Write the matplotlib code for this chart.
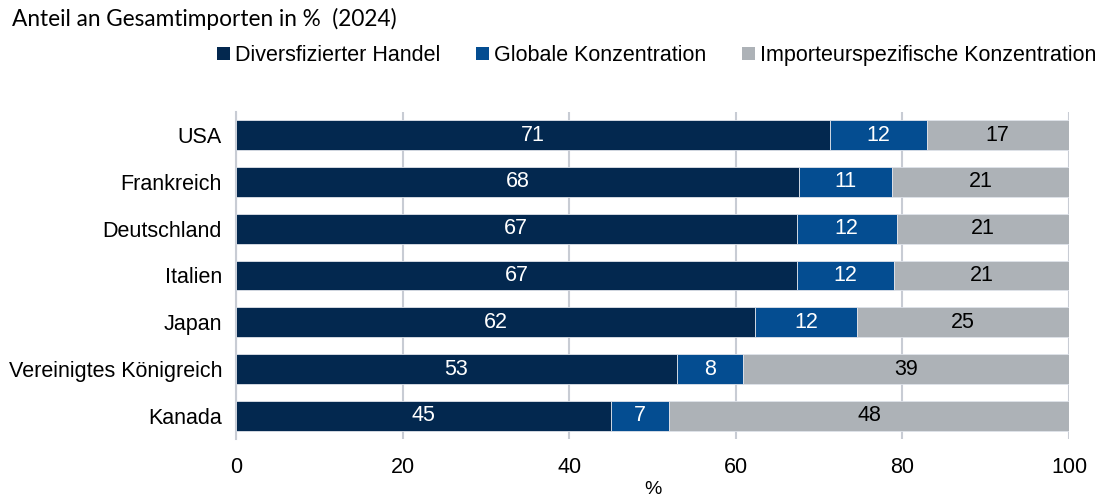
import matplotlib
matplotlib.use("Agg")
import matplotlib.pyplot as plt
from matplotlib.patches import Patch
import numpy as np

countries = ["USA", "Frankreich", "Deutschland", "Italien", "Japan",
             "Vereinigtes Königreich", "Kanada"]
diversified = [71.3, 67.6, 67.3, 67.4, 62.3, 52.9, 45.0]
global_conc = [11.6, 11.15, 12.0, 11.6, 12.3, 8.0, 7.0]
importer_conc = [17.1, 21.25, 20.7, 21.0, 25.4, 39.1, 48.0]
series_names = ["Diversfizierter Handel", "Globale Konzentration",
                "Importeurspezifische Konzentration"]
colors = ["#03284f", "#044d91", "#adb2b7"]
label_colors = ["white", "white", "black"]
xticks = [0, 20, 40, 60, 80, 100]

plt.rcParams['font.family'] = ['Liberation Sans', 'DejaVu Sans']

fig = plt.figure(figsize=(11.12, 5.01), dpi=100)
ax = fig.add_axes([0.2122, 0.1230, 0.9613 - 0.2122, 0.7772 - 0.1230])

y = np.arange(len(countries))
left = np.zeros(len(countries))
for vals, c, lc, name in zip([diversified, global_conc, importer_conc],
                             colors, label_colors, series_names):
    vals = np.array(vals)
    ax.barh(y, vals, left=left, height=0.64, color=c,
            edgecolor="#dfe3ea", linewidth=0.6, label=name, zorder=3)
    for yi, l, v in zip(y, left, vals):
        ax.text(l + v / 2, yi, f"{round(v):d}", ha="center", va="center",
                color=lc, fontsize=15.5, zorder=4)
    left = left + vals

ax.set_ylim(len(countries) - 0.5, -0.5)
ax.set_xlim(0, 100)
ax.set_yticks(y)
ax.set_yticklabels(countries, fontsize=15.5)
ax.set_xticks(xticks)
ax.set_xticklabels([str(t) for t in xticks], fontsize=15.5)
ax.tick_params(axis="y", length=0, pad=10)
ax.tick_params(axis="x", length=0, pad=13)
ax.xaxis.grid(True, color="#c8ccd4", linewidth=1.5, zorder=0)
ax.set_axisbelow(True)
for s in ["top", "right", "bottom"]:
    ax.spines[s].set_visible(False)
ax.spines["left"].set_color("#c8ccd4")
ax.spines["left"].set_linewidth(1.5)
ax.set_xlabel("%", fontsize=14, labelpad=2)

fig.text(0.011, 0.962, "Anteil an Gesamtimporten in %  (2024)",
         family=["Lato", "DejaVu Sans"], fontsize=16.3, va="center", ha="left")

handles = [Patch(facecolor=c, edgecolor="none") for c in colors]
fig.legend(handles, series_names, loc="center right", ncol=3,
           bbox_to_anchor=(0.994, 0.889), frameon=False, fontsize=15.5,
           handlelength=0.6, handleheight=0.6, handletextpad=0.25,
           columnspacing=1.65, borderaxespad=0)

fig.savefig("out.png", dpi=100)
